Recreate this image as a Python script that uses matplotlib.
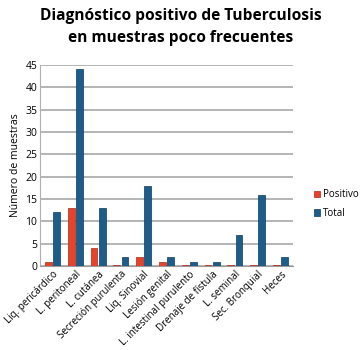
import matplotlib
matplotlib.use("Agg")
import matplotlib.pyplot as plt
import numpy as np

categories = ["Liq. pericárdico", "L. peritoneal", "L. cutánea", "Secreción purulenta",
              "Liq. Sinovial", "Lesión genital", "L. intestinal purulento",
              "Drenaje de fístula", "L. seminal", "Sec. Bronquial", "Heces"]
positivo = [1, 13, 4, 0.3, 2, 1, 0.3, 0.3, 0.3, 0.3, 0.3]
total = [12, 44, 13, 2, 18, 2, 1, 1, 7, 16, 2]
yticks = [0, 5, 10, 15, 20, 25, 30, 35, 40, 45]

plt.rcParams['font.family'] = ['Open Sans', 'DejaVu Sans']

fig = plt.figure(figsize=(3.61, 3.50), dpi=100)
ax = fig.add_axes([40/361, 1-266/350, (293-40)/361, (266-65)/350])

x = np.arange(len(categories))
w = 0.3
ax.bar(x - w/2 - 0.03, positivo, w, color="#E8412C", edgecolor="#A82A18", linewidth=0.5,
       label="Positivo", zorder=3)
ax.bar(x + w/2 + 0.03, total, w, color="#1C5D8C", edgecolor="#0E3A5C", linewidth=0.5,
       label="Total", zorder=3)

ax.set_xlim(-0.55, len(categories) - 0.45)
ax.set_ylim(0, 45)
ax.set_yticks(yticks)
ax.set_yticklabels([str(v) for v in yticks], fontsize=7.5)
ax.yaxis.grid(True, color="#a0a0a0", linewidth=1.1, zorder=0)
ax.set_axisbelow(True)
ax.set_xticks(x)
ax.set_xticklabels(categories, rotation=45, ha="right", rotation_mode="anchor", fontsize=7)
ax.tick_params(axis="both", length=0, pad=2)
for s in ["top", "right"]:
    ax.spines[s].set_visible(False)
ax.spines["left"].set_color("#b0b0b0")
ax.spines["bottom"].set_color("#9a9a9a")
ax.set_ylabel("Número de muestras", fontsize=7.5, labelpad=3)

fig.text(0.5, 1-16/350, "Diagnóstico positivo de Tuberculosis", ha="center", va="center",
         fontsize=11.2, fontweight="bold")
fig.text(0.5, 1-38/350, "en muestras poco frecuentes", ha="center", va="center",
         fontsize=11.2, fontweight="bold")

fig.legend(loc="center left", bbox_to_anchor=(305/361, 1-204/350), frameon=False,
           fontsize=7, handlelength=0.6, handleheight=0.6, handletextpad=0.3,
           labelspacing=0.8)

fig.savefig("out.png", dpi=100)
